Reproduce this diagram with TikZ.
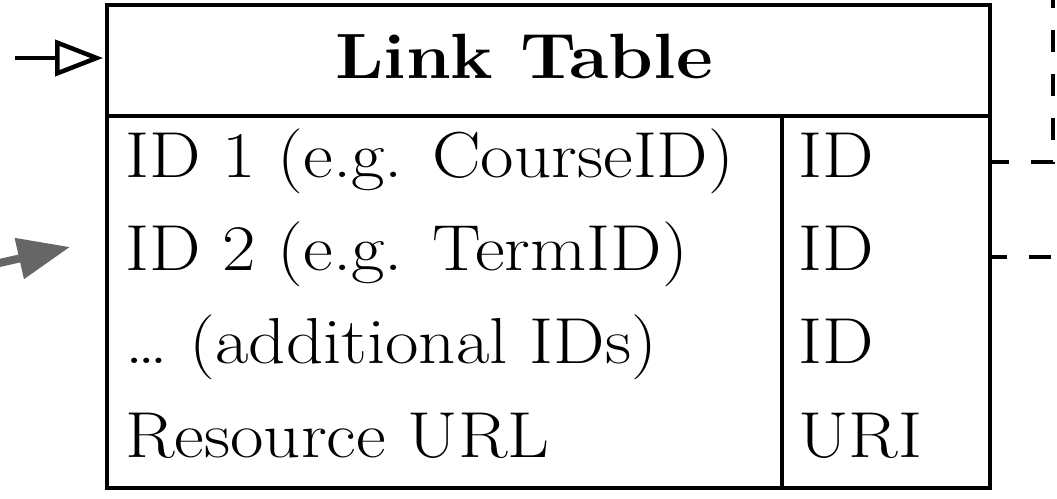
\documentclass[tikz,border=0pt]{standalone}
\usetikzlibrary{arrows.meta}
\newcommand{\wide}[1]{\scalebox{1.12}[1]{#1}}
\begin{document}
\begin{tikzpicture}[x=1pt,y=-1pt,
  frame/.style={draw=black,line width=4.8pt},
  celltext/.style={inner sep=0pt,anchor=base west,font=\fontsize{65}{72}\selectfont},
  headtext/.style={inner sep=0pt,anchor=base,font=\fontsize{64}{72}\selectfont\bfseries},
  fklink/.style={draw=black,line width=4pt,dash pattern=on 22pt off 22pt},
  inlink/.style={draw=black,line width=4pt,-{Triangle[open,length=48pt,width=36pt,line width=4.5pt]}},
  graylink/.style={draw=black!60,line width=8pt,-{Triangle[length=52pt,width=40pt]}}]
\useasboundingbox (0,0) rectangle (1057,498);
\fill[white] (0,0) rectangle (1057,498);

% table outline, header rule and column divider
\coordinate (tl) at (107,5);
\coordinate (br) at (990,488);
\coordinate (hl) at (107,116);
\coordinate (hr) at (990,116);
\coordinate (dtop) at (782,116);
\coordinate (dbot) at (782,488);
\draw[frame] (tl) rectangle (br);
\draw[frame] (hl) -- (hr);
\draw[frame] (dtop) -- (dbot);

% header
\node[headtext] (title) at (524,78) {\wide{Link Table}};

% rows
\node[celltext] (n1) at (125,177) {\wide{ID 1 (e.g. CourseID)}};
\node[celltext] (n2) at (125,270) {\wide{ID 2 (e.g. TermID)}};
\node[celltext] (n3) at (125,363) {\wide{\dots\ (additional IDs)}};
\node[celltext] (n4) at (125,457) {\wide{Resource URL}};
\node[celltext] (t1) at (798,177) {\wide{ID}};
\node[celltext] (t2) at (798,270) {\wide{ID}};
\node[celltext] (t3) at (798,363) {\wide{ID}};
\node[celltext] (t4) at (798,457) {\wide{URI}};

% incoming arrows on the left
\coordinate (inA) at (15,58);
\coordinate (inAend) at (103,58);
\draw[inlink] (inA) -- (inAend);
\coordinate (inB) at (-5,264);
\coordinate (inBend) at (70,247);
\draw[graylink] (inB) -- (inBend);

% dashed key links on the right
\coordinate (k1top) at (1053,0);
\coordinate (k1bend) at (1053,162);
\coordinate (k1box) at (990,162);
\draw[fklink,dash phase=14pt] (k1top) -- (k1bend) -- (k1box);
\coordinate (k2box) at (990,257);
\coordinate (k2out) at (1075,257);
\draw[fklink,dash phase=5pt] (k2box) -- (k2out);
\end{tikzpicture}
\end{document}
